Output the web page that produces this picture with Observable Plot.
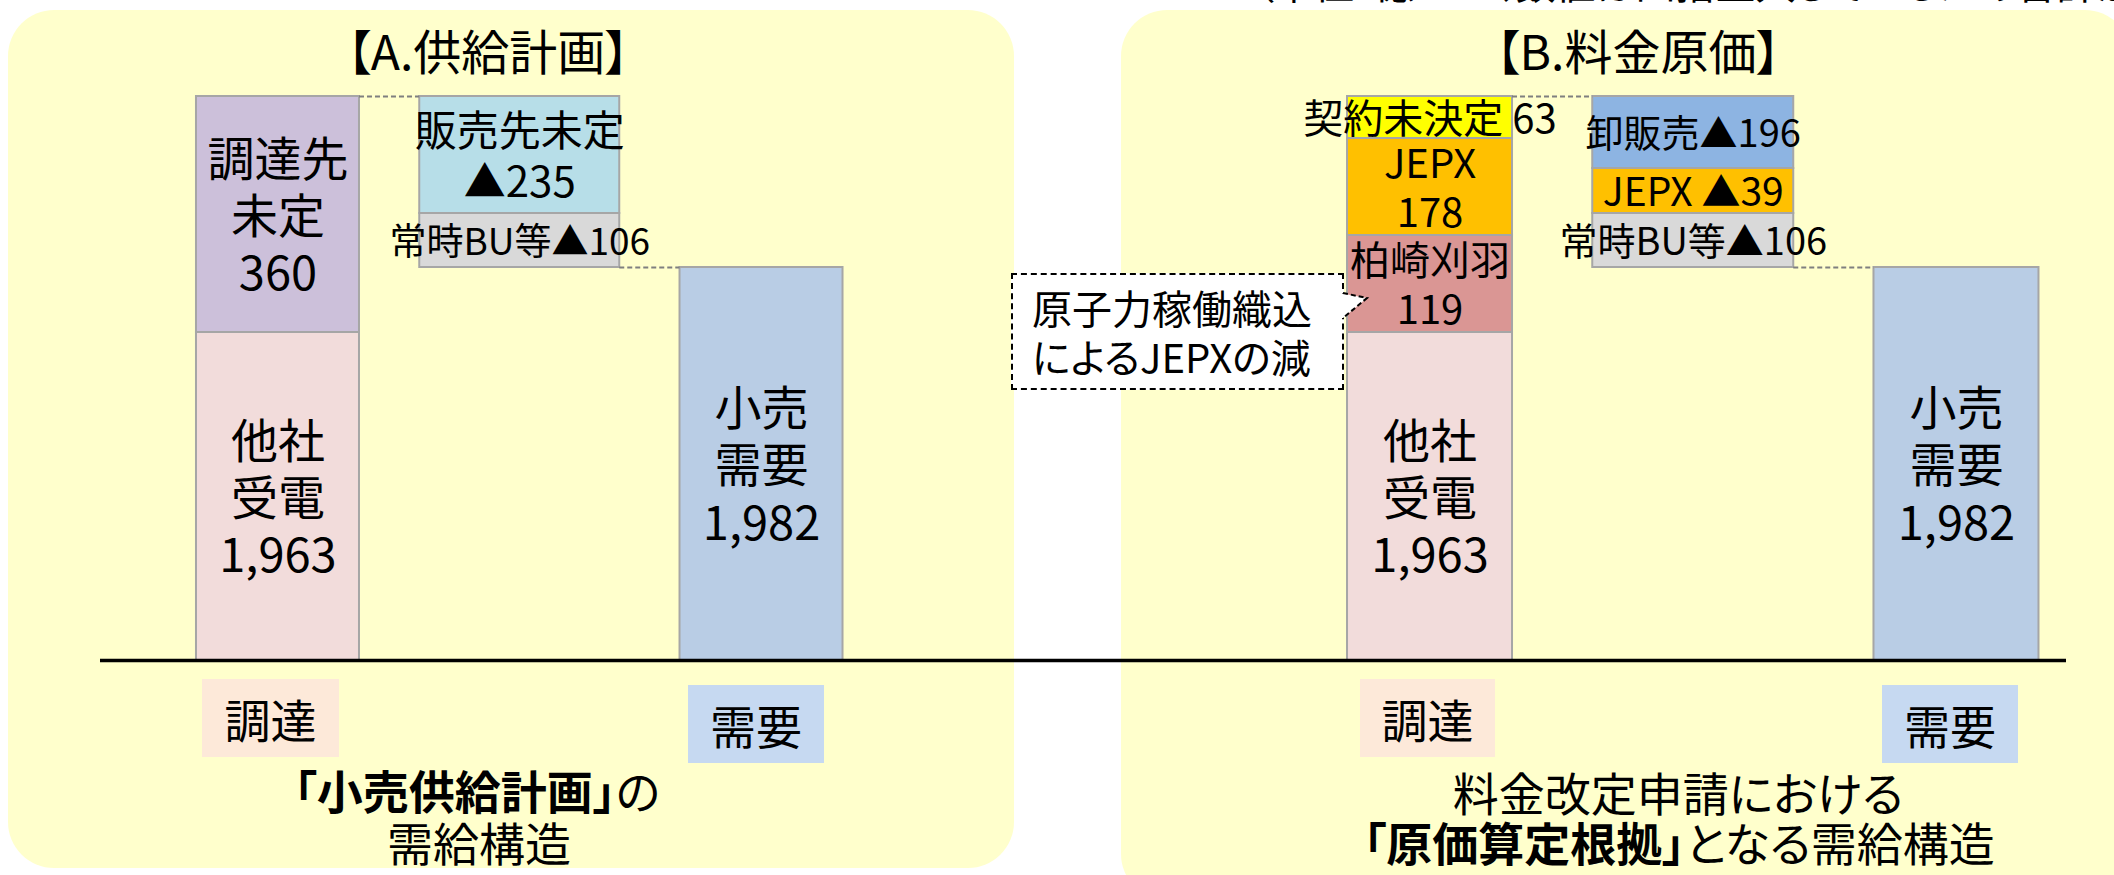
<!DOCTYPE html>
<html lang="ja">
<head>
<meta charset="utf-8">
<script src="https://cdn.jsdelivr.net/npm/d3@7"></script>
<script src="https://cdn.jsdelivr.net/npm/@observablehq/plot@0.6"></script>
<style>
html,body{margin:0;padding:0;background:#fff;}
body{width:2114px;height:875px;overflow:hidden;font-family:"Noto Sans CJK JP",sans-serif;font-feature-settings:"palt";}
#stage{position:relative;width:2114px;height:875px;overflow:hidden;}
.panel{position:absolute;background:#FFFFCC;border-radius:46px;}
.abs{position:absolute;white-space:nowrap;line-height:1;color:#000;}
.title{font-size:48px;transform:translate(-50%,-50%);}
.tag{display:flex;align-items:center;justify-content:center;font-size:46px;}
.caption{font-size:46px;line-height:46px;text-align:center;transform:translate(-50%,-50%);}
.caption b{font-weight:700;}
.plotwrap{position:absolute;top:0;}
.plotwrap svg{display:block;max-width:none;}
svg text{font-feature-settings:"palt";}
.note{box-sizing:border-box;border:2px dashed #000;background:#fff;font-size:40px;line-height:49px;padding:8px 0 0 19px;}
</style>
</head>
<body>
<div id="stage">
  <div class="panel" style="left:8px;top:10px;width:1006px;height:858px;"></div>
  <div class="panel" style="left:1121px;top:10px;width:1010px;height:890px;"></div>
  <div class="abs" id="unit" style="left:1254px;top:-38px;font-size:40px;"></div>
  <div class="plotwrap" id="plotA" style="left:0px;"></div>
  <div class="plotwrap" id="plotB" style="left:1057px;"></div>
  <div class="abs title" id="titleA" style="left:488px;top:49px;"></div>
  <div class="abs title" id="titleB" style="left:1638px;top:49px;"></div>
  <div class="abs tag" id="tagA0" style="left:202px;top:679px;width:137px;height:78px;background:#FDE9D9;"></div>
  <div class="abs tag" id="tagA2" style="left:688px;top:685px;width:136px;height:78px;background:#C6D9F1;"></div>
  <div class="abs tag" id="tagB0" style="left:1360px;top:679px;width:135px;height:78px;background:#FDE9D9;"></div>
  <div class="abs tag" id="tagB2" style="left:1882px;top:685px;width:136px;height:78px;background:#C6D9F1;"></div>
  <div class="abs caption" style="left:477px;top:789px;"><b>「小売供給計画」</b>の</div>
  <div class="abs caption" style="left:479px;top:841px;">需給構造</div>
  <div class="abs caption" style="left:1678px;top:791px;">料金改定申請における</div>
  <div class="abs caption" style="left:1679px;top:841px;"><b>「原価算定根拠」</b>となる需給構造</div>
  <div class="abs note" id="note" style="left:1011px;top:273px;width:333px;height:117px;"></div>
  <svg style="position:absolute;left:1339px;top:288px;" width="34" height="36">
    <polygon points="0,5 28,10 4,30 0,30" fill="#fff" stroke="none"/>
    <polyline points="4,5 28,10 4,30" fill="none" stroke="#000" stroke-width="2" stroke-dasharray="5,3"/>
  </svg>
</div>
<script>
const FONT = "'Noto Sans CJK JP','Noto Sans CJK SC',sans-serif";
const fmt = d3.format(",");

// ---------------- data (単位：億kWh) ----------------
const columnNames = ["調達", "差引", "需要"];
const tickLabels = ["調達", "需要"];
const panelTitles = ["【A.供給計画】", "【B.料金原価】"];

const aSupplyNames = ["他社受電", "調達先未定"];
const aSupplyValues = [1963, 360];
const aReductionNames = ["販売先未定", "常時BU等"];
const aReductionValues = [235, 106];
const aDemandNames = ["小売需要"];
const aDemandValues = [1982];

const bSupplyNames = ["他社受電", "柏崎刈羽", "JEPX", "契約未決定"];
const bSupplyValues = [1963, 119, 178, 63];
const bReductionNames = ["卸販売", "JEPX", "常時BU等"];
const bReductionValues = [196, 39, 106];
const bDemandNames = ["小売需要"];
const bDemandValues = [1982];

const noteText = ["原子力稼働織込", "によるJEPXの減"];
const unitText = "（単位：億kWh、数値は四捨五入しているため合計が一致しない場合がある）";

// ---------------- styles ----------------
const displayName = {"他社受電": "他社\n受電", "調達先未定": "調達先\n未定", "小売需要": "小売\n需要"};
const sepOverride = {"A|reduction|販売先未定": "\n", "B|supply|契約未決定": " ", "B|reduction|JEPX": " "};
const fillOf = {
  "supply|他社受電": "#F2DCDB", "supply|調達先未定": "#CCC0DA", "supply|柏崎刈羽": "#DA9694",
  "supply|JEPX": "#FFC000", "supply|契約未決定": "#FFFF00",
  "reduction|販売先未定": "#B7DEE8", "reduction|常時BU等": "#D9D9D9",
  "reduction|卸販売": "#8DB4E2", "reduction|JEPX": "#FFC000",
  "demand|小売需要": "#B9CDE5"
};
const sizeOf = {
  "A|supply|他社受電": 47, "A|supply|調達先未定": 47, "A|demand|小売需要": 47,
  "A|reduction|販売先未定": 42, "A|reduction|常時BU等": 37,
  "B|supply|他社受電": 47, "B|demand|小売需要": 47,
  "B|supply|柏崎刈羽": 40, "B|supply|JEPX": 40, "B|supply|契約未決定": 40,
  "B|reduction|卸販売": 38, "B|reduction|JEPX": 39, "B|reduction|常時BU等": 38
};

function buildPanel(panel, supN, supV, redN, redV, demN, demV) {
  const segs = [];
  let acc = 0;
  supN.forEach((n, i) => { segs.push({panel, col: 0, kind: "supply", name: n, value: supV[i], y1: acc, y2: acc + supV[i]}); acc += supV[i]; });
  let top = acc;
  redN.forEach((n, i) => { segs.push({panel, col: 1, kind: "reduction", name: n, value: redV[i], y2: top, y1: top - redV[i]}); top -= redV[i]; });
  let base = 0;
  demN.forEach((n, i) => { segs.push({panel, col: 2, kind: "demand", name: n, value: demV[i], y1: base, y2: base + demV[i]}); base += demV[i]; });
  segs.forEach(d => {
    const key = `${d.panel}|${d.kind}|${d.name}`;
    const sep = sepOverride[key] ?? (d.kind === "reduction" ? "" : "\n");
    const nm = displayName[d.name] ?? d.name;
    d.label = d.kind === "reduction" ? nm + sep + "▲" + fmt(d.value) : nm + sep + fmt(d.value);
    d.fill = fillOf[`${d.kind}|${d.name}`];
    d.size = sizeOf[key] ?? 40;
  });
  return {segs, total: d3.sum(supV), demand: d3.sum(demV)};
}

const A = buildPanel("A", aSupplyNames, aSupplyValues, aReductionNames, aReductionValues, aDemandNames, aDemandValues);
const B = buildPanel("B", bSupplyNames, bSupplyValues, bReductionNames, bReductionValues, bDemandNames, bDemandValues);

// schematic (non-proportional) vertical scale: piecewise linear between the stack boundaries
const yBreaks = Array.from(new Set([...A.segs, ...B.segs].flatMap(d => [d.y1, d.y2]))).sort(d3.ascending);
const schematicLevel = {0: 660, 1963: 332, 1982: 267, 2082: 235, 2088: 213, 2127: 168, 2260: 138, 2323: 96};
const yScaleOptions = {type: "linear", domain: yBreaks, range: yBreaks.map(v => schematicLevel[v])};
const yScale = Plot.scale({y: yScaleOptions});
[...A.segs, ...B.segs].forEach(d => { d.mid = yScale.invert((yScale.apply(d.y1) + yScale.apply(d.y2)) / 2); });

function panelPlot(P, L) {
  const step = (1057 - L.marginLeft - L.marginRight) / 3;
  const sideInset = (step - L.sideWidth) / 2;
  const midInset = (step - L.midWidth) / 2;
  const connectors = [{y: P.total, from: 0, to: 1}, {y: P.demand, from: 1, to: 2}];
  const rectOpts = {x1: d => d.col - 0.5, x2: d => d.col + 0.5, y1: "y1", y2: "y2", fill: "fill", stroke: "#A6A6A6", strokeWidth: 2};
  return Plot.plot({
    width: 1057, height: 875,
    marginLeft: L.marginLeft, marginRight: L.marginRight, marginTop: 0, marginBottom: 0,
    x: {type: "linear", domain: [-0.5, 2.5], axis: null},
    y: {...yScaleOptions, axis: null},
    color: {type: "identity"},
    style: {background: "transparent", fontFamily: FONT, overflow: "visible"},
    marks: [
      Plot.rect(P.segs.filter(d => d.col !== 1), {...rectOpts, insetLeft: sideInset, insetRight: sideInset}),
      Plot.rect(P.segs.filter(d => d.col === 1), {...rectOpts, insetLeft: midInset, insetRight: midInset}),
      Plot.ruleY(connectors.slice(0, 1), {y: "y", x1: "from", x2: "to", insetLeft: L.sideWidth / 2, insetRight: L.midWidth / 2, stroke: "#7F7F7F", strokeWidth: 2, strokeDasharray: "5,3"}),
      Plot.ruleY(connectors.slice(1), {y: "y", x1: "from", x2: "to", insetLeft: L.midWidth / 2, insetRight: L.sideWidth / 2, stroke: "#7F7F7F", strokeWidth: 2, strokeDasharray: "5,3"}),
      Plot.ruleY([0], {stroke: "#000", strokeWidth: 3.5, insetLeft: L.axisInsetLeft, insetRight: L.axisInsetRight}),
      Plot.text(P.segs, {x: "col", y: "mid", text: "label", fontSize: "size", lineHeight: 1.22, fill: "#000", fontFamily: FONT})
    ]
  });
}

document.getElementById("plotA").appendChild(panelPlot(A, {marginLeft: 156.6, marginRight: 175.1, sideWidth: 163, midWidth: 200, axisInsetLeft: -56.6, axisInsetRight: -175.1}));
document.getElementById("plotB").appendChild(panelPlot(B, {marginLeft: 240.9, marginRight: 26.4, sideWidth: 165, midWidth: 201, axisInsetLeft: -240.9, axisInsetRight: 21.6}));

document.getElementById("titleA").textContent = panelTitles[0];
document.getElementById("titleB").textContent = panelTitles[1];
document.getElementById("tagA0").textContent = tickLabels[0];
document.getElementById("tagA2").textContent = tickLabels[1];
document.getElementById("tagB0").textContent = tickLabels[0];
document.getElementById("tagB2").textContent = tickLabels[1];
document.getElementById("note").innerHTML = noteText.join("<br>");
document.getElementById("unit").textContent = unitText;
</script>
</body>
</html>
